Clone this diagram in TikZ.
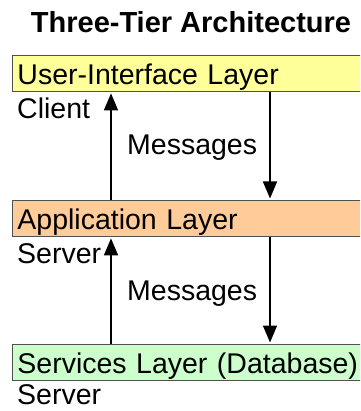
\documentclass[tikz,border=0pt]{standalone}
\usepackage{fontspec}
\setmainfont{Liberation Sans}
\usetikzlibrary{arrows.meta}
\definecolor{uiyellow}{HTML}{FFFF99}
\definecolor{apporange}{HTML}{FFCC99}
\definecolor{svcgreen}{HTML}{CCFFCC}
\definecolor{boxedge}{HTML}{505050}
\begin{document}
\begin{tikzpicture}[x=1pt,y=-1pt,
  bodyfont/.style={font=\fontsize{28.5pt}{30pt}\selectfont},
  layer/.style={bodyfont, draw=boxedge, line width=0.9pt, anchor=north west,
    minimum height=36pt, text width=350pt, inner xsep=5pt, inner ysep=0pt,
    text height=22pt, text depth=0pt, align=left},
  lbl/.style={bodyfont, anchor=base west, inner sep=0pt},
  msg/.style={-{Triangle[width=14pt,length=17pt]}, line width=1.7pt, shorten >=1.5pt}]
  \useasboundingbox (0,0) rectangle (360,411);
  \clip (0,0) rectangle (360,411);

  % title
  \node[font=\bfseries\fontsize{29pt}{30pt}\selectfont, anchor=base, inner sep=0pt]
    (title) at (191,33) {Three-Tier Architecture};

  % the three layers
  \node[layer, fill=uiyellow]  (ui)  at (12,55)  {User-Interface Layer};
  \node[layer, fill=apporange] (app) at (12,200) {Application Layer};
  \node[layer, fill=svcgreen]  (svc) at (12,344) {Services Layer (Database)};

  % tier labels
  \node[lbl] (client)  at (17,119) {Client};
  \node[lbl] (server1) at (17,263) {Server};
  \node[lbl] (server2) at (17,404) {Server};
  \node[lbl] (msg1) at (127,155) {Messages};
  \node[lbl] (msg2) at (127,300) {Messages};

  % message flow
  \coordinate (upx) at (111,0);
  \coordinate (dnx) at (270,0);
  \draw[msg] (app.north -| upx) -- (ui.south -| upx);
  \draw[msg] (ui.south -| dnx) -- (app.north -| dnx);
  \draw[msg] (svc.north -| upx) -- (app.south -| upx);
  \draw[msg] (app.south -| dnx) -- (svc.north -| dnx);
\end{tikzpicture}
\end{document}
